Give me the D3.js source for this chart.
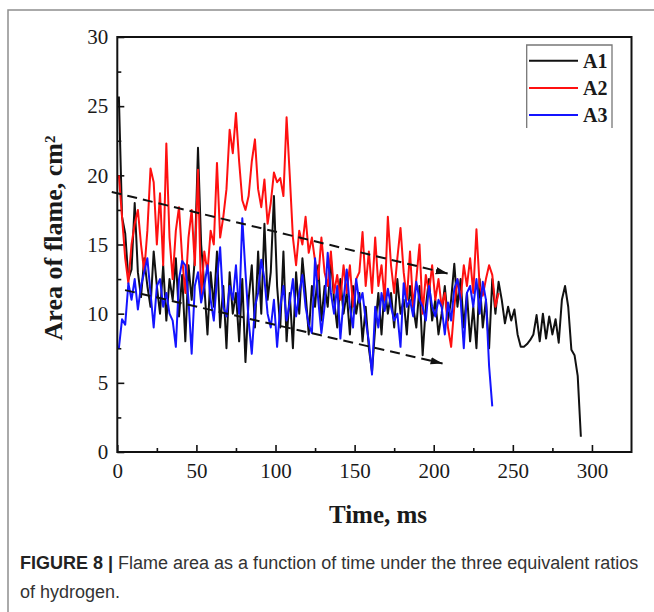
<!DOCTYPE html>
<html>
<head>
<meta charset="utf-8">
<script src="https://cdn.jsdelivr.net/npm/d3@7"></script>
<style>
  body { margin: 0; background: #fff; }
</style>
</head>
<body>
<div id="chart"></div>
<script>
// sample times (ms), shared by the three curves
const sampleTime = [1,3,5,7,9,11,13,15,17,19,21,23,25,27,29,31,33,35,37,39,
  41,43,45,47,49,51,53,55,57,59,61,63,65,67,69,71,73,75,77,79,
  81,83,85,87,89,91,93,95,97,99,101,103,105,107,109,111,113,115,117,119,
  121,123,125,127,129,131,133,135,137,139,141,143,145,147,149,151,153,155,157,159,
  161,163,165,167,169,171,173,175,177,179,181,183,185,187,189,191,193,195,197,199,
  201,203,205,207,209,211,213,215,217,219,221,223,225,227,229,231,233,235,237,239,
  241,243,245,247,249,251,253,255,257,259,261,263,265,267,269,271,273,275,277,279,
  281,283,285,287,289,291,293];

// flame area, cm^2
const a1Area = [25.7,17,15.8,12.5,13.2,18,13,11.2,14,12,
  10.5,14.5,12,10,13.5,9.5,12.5,11,14,9.8,
  12.8,8,13.5,11,14,22,15,12,8.5,13,
  10.5,14.5,9,12,7.5,13,10,11.5,8,12.5,
  6.5,11,13.5,9,14.5,10,16.5,11,13,18.5,
  12,9,14.5,8,11.5,7.5,13,10,14,11.5,
  8.5,12,10.5,13.5,9.5,12,10.5,14,11,9,
  12.5,10,11.5,8.5,12,10,11.5,8,10.5,7.5,
  5.8,9,11.5,8.5,12,10,11.5,9,12.5,10,
  11,8.5,12,10.5,9,12,7,10.5,12.5,9.5,
  11,8.5,10,12,9.5,11,13.6,10.5,12.5,9,
  11.5,8,10.5,7.5,12.5,9,11,7.5,12.5,10,
  12.3,11,9.3,10.5,9.5,10.3,8.5,7.6,7.6,7.8,
  8.1,8.5,9.9,8,10,8.2,9.8,8.5,9.6,7.9,
  11,12,10.5,7.4,7,5.5,1.1];

const a2Area = [20,17,14,12.2,15,16.5,17.5,15,13,16,
  20.5,19.5,15,18.7,13.5,22.3,15.5,12.5,16,17.7,
  14,11.5,15.5,17.5,13.5,20.4,11.2,14.5,13,16,
  15,20.9,15.5,17,19,23.3,21.6,24.5,21,18.2,
  17.5,18.5,21,22.6,19,17.7,19.7,16.5,18,20.2,
  19.5,19.8,18.5,24.2,20,15.5,13.5,16,15,17,
  14.4,15.5,13.8,12.5,15.5,13,12,14.5,11.5,12.8,
  11,13.5,11.5,13.5,10.5,12.5,13,15.9,12,14.5,
  11.5,15.5,12,13.5,11,17,13.5,11.5,14,16.2,
  13,11,14.5,10.5,12.5,15,10,12.8,11.5,13.5,
  11,12.5,10.5,11.5,9,7.6,10.5,12.5,11,13.5,
  12,14,11.5,16.1,12,11.3,12.5,13.5,12.8,10.5,
  11.5];

const a3Area = [7.5,9.6,9.2,12.2,11,12.5,10.3,12,13,14,
  11.5,9,12,12.5,10.5,11.5,10,9.5,7.6,12.5,
  13.8,13.5,11,7.1,12,13,10.8,12,13.5,11,
  9.5,12.5,14.8,10.5,9.8,12,11,13.5,10,16.9,
  13,9.5,7.1,10.5,11.5,13.9,12.5,10,9,11,
  7.6,10.5,12,9.5,10.8,12.5,9.8,11.5,12.8,10.5,
  9.2,8.6,14,11,8.6,10.5,14.4,11.5,10,12,
  8.2,11,13.2,10.5,9,12.5,10.8,11.5,9.5,8,
  5.6,10.5,9,11.5,10.2,11.8,10.5,9.5,10,7.6,
  12.2,10.5,11,9.8,12.3,11,10.5,9.5,12,10.5,
  9.8,11,10.5,8.5,10.8,9.5,11.8,12.5,11,7.5,
  11.5,12,10.5,12.5,10,12.3,11,6.2,3.3];

const seriesNames = ["A1", "A2", "A3"];
const seriesColors = ["#111111", "#ff1010", "#1414ff"];

// dashed trend arrows [start, end]
const upperTrendT = [-3.5, 208.8], upperTrendV = [18.8, 12.9];
const lowerTrendT = [4.9, 205.6],  lowerTrendV = [11.7, 6.4];

const xMajor = [0, 50, 100, 150, 200, 250, 300];
const xMinor = [25, 75, 125, 175, 225, 275];
const yMajor = [0, 5, 10, 15, 20, 25, 30];
const yMinor = [2.5, 7.5, 12.5, 17.5, 22.5, 27.5];

const serif = "'Liberation Serif','Times New Roman',serif";
const sans = "'Liberation Sans',Arial,sans-serif";

const svg = d3.select("#chart").append("svg")
    .attr("width", 654)
    .attr("height", 612);

// outer figure border
svg.append("rect")
    .attr("x", 8).attr("y", 10)
    .attr("width", 700).attr("height", 700)
    .attr("fill", "none")
    .attr("stroke", "#8f8f8f")
    .attr("stroke-width", 1.5);

const p = {left: 117.3, right: 631.5, top: 37, bottom: 452};

const x = d3.scaleLinear().domain([0, 325]).range([p.left, p.right]);
const y = d3.scaleLinear().domain([0, 30]).range([p.bottom, p.top]);

// x axis
const gx = svg.append("g")
    .attr("transform", `translate(0,${p.bottom})`)
    .call(d3.axisBottom(x).tickValues(xMajor).tickSize(-7).tickPadding(11));
gx.select(".domain").remove();
svg.append("g")
    .attr("transform", `translate(0,${p.bottom})`)
    .call(d3.axisBottom(x).tickValues(xMinor).tickSize(-4).tickFormat(""))
    .select(".domain").remove();

// y axis
const gy = svg.append("g")
    .attr("transform", `translate(${p.left},0)`)
    .call(d3.axisLeft(y).tickValues(yMajor).tickSize(-7).tickPadding(9));
gy.select(".domain").remove();
svg.append("g")
    .attr("transform", `translate(${p.left},0)`)
    .call(d3.axisLeft(y).tickValues(yMinor).tickSize(-4).tickFormat(""))
    .select(".domain").remove();

svg.selectAll(".tick line").attr("stroke", "#111").attr("stroke-width", 1.6);
svg.selectAll(".tick text")
    .style("font-family", serif)
    .style("font-size", "21px")
    .attr("fill", "#1a1a1a");

// curves
const allSeries = [a1Area, a2Area, a3Area];
const line = d3.line()
    .x((d, i) => x(sampleTime[i]))
    .y(d => y(d));

svg.append("g").selectAll("path")
    .data(allSeries)
    .join("path")
    .attr("d", line)
    .attr("fill", "none")
    .attr("stroke", (d, i) => seriesColors[i])
    .attr("stroke-width", 2)
    .attr("stroke-linejoin", "round");

// arrow marker
svg.append("defs").append("marker")
    .attr("id", "head")
    .attr("markerUnits", "userSpaceOnUse")
    .attr("markerWidth", 13).attr("markerHeight", 8)
    .attr("refX", 12).attr("refY", 4)
    .attr("orient", "auto")
  .append("path")
    .attr("d", "M0,0.3 L12,4 L0,7.7 Z")
    .attr("fill", "#111");

const trends = [
  upperTrendT.map((t, i) => [t, upperTrendV[i]]),
  lowerTrendT.map((t, i) => [t, lowerTrendV[i]])
];
svg.append("g").selectAll("path")
    .data(trends)
    .join("path")
    .attr("d", d3.line().x(d => x(d[0])).y(d => y(d[1])))
    .attr("fill", "none")
    .attr("stroke", "#111")
    .attr("stroke-width", 2)
    .attr("stroke-dasharray", "10,6")
    .attr("marker-end", "url(#head)");

// plot frame
svg.append("rect")
    .attr("x", p.left).attr("y", p.top)
    .attr("width", p.right - p.left).attr("height", p.bottom - p.top)
    .attr("fill", "none")
    .attr("stroke", "#111")
    .attr("stroke-width", 2);

// legend (open at the bottom, as in the figure)
const lg = svg.append("g");
lg.append("path")
    .attr("d", "M526.7,128 V45 H612 V128")
    .attr("fill", "none")
    .attr("stroke", "#777")
    .attr("stroke-width", 1.3);
seriesNames.forEach((name, i) => {
  const ly = 60.7 + i * 27.2;
  lg.append("line")
      .attr("x1", 529).attr("x2", 578)
      .attr("y1", ly).attr("y2", ly)
      .attr("stroke", seriesColors[i])
      .attr("stroke-width", 2);
  lg.append("text")
      .attr("x", 583).attr("y", ly + 7)
      .style("font-family", serif)
      .style("font-size", "20px")
      .style("font-weight", "bold")
      .attr("fill", "#1a1a1a")
      .text(name);
});

// axis titles
svg.append("text")
    .attr("x", 378).attr("y", 523)
    .attr("text-anchor", "middle")
    .style("font-family", serif)
    .style("font-size", "25px")
    .style("font-weight", "bold")
    .attr("fill", "#1a1a1a")
    .text("Time, ms");

const yt = svg.append("text")
    .attr("transform", "translate(62,238) rotate(-90)")
    .attr("text-anchor", "middle")
    .style("font-family", serif)
    .style("font-size", "26px")
    .style("font-weight", "bold")
    .attr("fill", "#1a1a1a");
yt.append("tspan").text("Area of flame, cm");
yt.append("tspan").attr("dy", "-0.5em").style("font-size", "15px").text("2");

// caption
const cap = svg.append("text")
    .attr("x", 20).attr("y", 569)
    .style("font-family", sans)
    .style("font-size", "18px")
    .attr("fill", "#333");
cap.append("tspan").style("font-weight", "bold").attr("fill", "#222").text("FIGURE 8 | ");
cap.append("tspan").text("Flame area as a function of time under the three equivalent ratios");
svg.append("text")
    .attr("x", 20).attr("y", 598)
    .style("font-family", sans)
    .style("font-size", "18px")
    .attr("fill", "#333")
    .text("of hydrogen.");
</script>
</body>
</html>
